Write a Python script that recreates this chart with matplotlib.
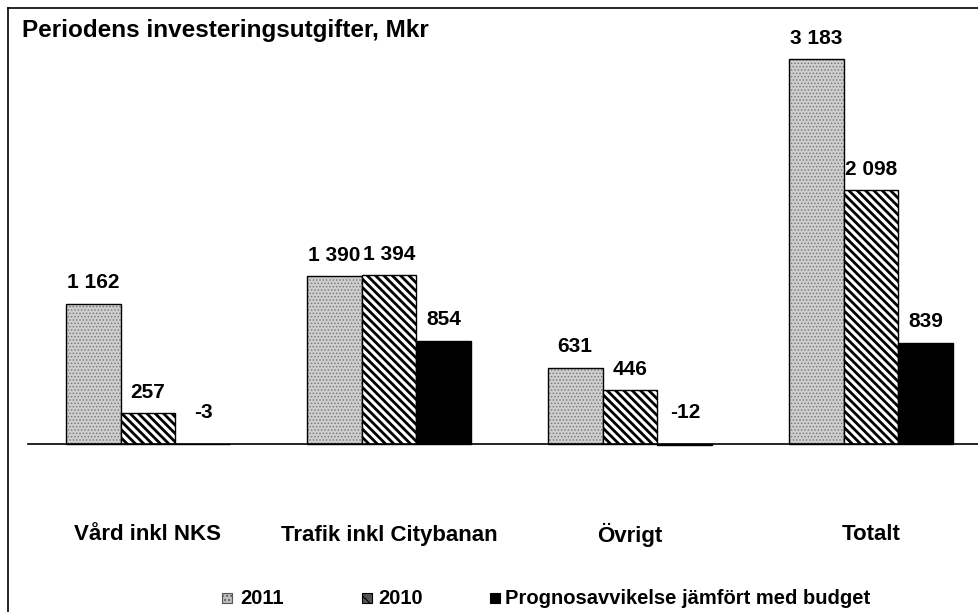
import matplotlib.pyplot as plt
from matplotlib.patches import Rectangle
import numpy as np

plt.rcParams['font.family'] = ['Liberation Sans', 'DejaVu Sans']

# Data
categories = ["Vård inkl NKS", "Trafik inkl Citybanan", "Övrigt", "Totalt"]
series_names = ["2011", "2010", "Prognosavvikelse jämfört med budget"]
v2011 = [1162, 1390, 631, 3183]
v2010 = [257, 1394, 446, 2098]
vprog = [-3, 854, -12, 839]
title = "Periodens investeringsutgifter, Mkr"


def fmt(v):
    return f"{v:,}".replace(",", " ")


W, H = 979, 612
fig = plt.figure(figsize=(W / 100, H / 100), dpi=100)
ax = fig.add_axes([0, 0, 1, 1])

# pixel mapping: category 0 at x=148 px, spacing 241 px; baseline y=444 px, 0.1209 px/unit
sx, cx0 = 241.0, 148.0
sy, base = 0.1209, 444.0
ax.set_xlim(-cx0 / sx, (W - cx0) / sx)
ax.set_ylim(-(H - base) / sy, base / sy)
ax.axis("off")

x = np.arange(len(categories))
bw = 0.228

# 2011: stippled light grey
plt.rcParams['hatch.linewidth'] = 0.7
ax.bar(x - bw, v2011, bw, color="#cfcfcf", edgecolor="#7a7a7a", hatch=".....", linewidth=0)
ax.bar(x - bw, v2011, bw, fill=False, edgecolor="black", linewidth=1.0)
# 2010: dense diagonal hatch
plt.rcParams['hatch.linewidth'] = 2.0
ax.bar(x, v2010, bw, color="white", edgecolor="black", hatch="\\\\\\\\", linewidth=1.0)
# prognos: black
ax.bar(x + bw, vprog, bw, color="black", edgecolor="black", linewidth=1.0)

# baseline
ax.plot([-0.5, 3.5], [0, 0], color="black", linewidth=1.2)

# value labels
for off, vals in [(-bw, v2011), (0, v2010), (bw, vprog)]:
    for xi, v in zip(x, vals):
        yoff = 15 if v >= 0 else 23
        ax.annotate(fmt(v), (xi + off, max(v, 0)), xytext=(0, yoff), textcoords="offset points",
                    ha="center", va="center", fontsize=15, fontweight="bold")

# category labels
for xi, c in zip(x, categories):
    ax.text(xi, -(535 - base) / sy, c, ha="center", va="center", fontsize=16, fontweight="bold")

# title
fig.text(22 / W, 1 - 30 / H, title, ha="left", va="center", fontsize=17.5, fontweight="bold")

# frame (left and top lines)
fig.add_artist(plt.Line2D([8 / W, 8 / W], [0, 1 - 8 / H], color="black", linewidth=1.2))
fig.add_artist(plt.Line2D([8 / W, 1], [1 - 8 / H, 1 - 8 / H], color="black", linewidth=1.2))

# legend
leg_y = 1 - 598 / H
sq = 10
plt.rcParams['hatch.linewidth'] = 0.8
items = [(222, 240, dict(facecolor="#bdbdbd", edgecolor="#555555", hatch="....")),
         (362, 378, dict(facecolor="#555555", edgecolor="black", hatch="\\\\\\")),
         (490, 505, dict(facecolor="black", edgecolor="black"))]
for (mx, tx, style), name in zip(items, series_names):
    fig.add_artist(Rectangle((mx / W, leg_y - sq / 2 / H), sq / W, sq / H,
                             transform=fig.transFigure, linewidth=0.8, **style))
    fig.text(tx / W, leg_y, name, ha="left", va="center", fontsize=14.5, fontweight="bold")

fig.savefig("out.png", dpi=100)
